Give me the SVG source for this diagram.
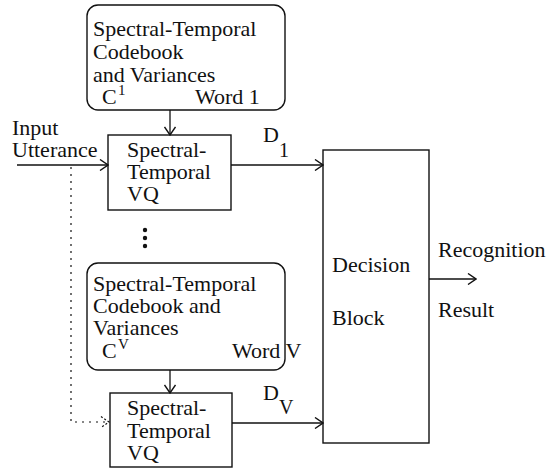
<svg xmlns="http://www.w3.org/2000/svg" width="553" height="470" viewBox="0 0 553 470" font-family="Times New Roman">
  <defs>
    <marker id="arr" viewBox="0 0 10 12" refX="9" refY="6" markerWidth="10" markerHeight="12" markerUnits="userSpaceOnUse" orient="auto">
      <path d="M1,0.5 L9,6 L1,11.5" fill="none" stroke="#111" stroke-width="1.4"/>
    </marker>
    <marker id="arrDot" viewBox="0 0 10 12" refX="9" refY="6" markerWidth="10" markerHeight="12" markerUnits="userSpaceOnUse" orient="auto">
      <path d="M1,0.5 L9,6 L1,11.5" fill="none" stroke="#111" stroke-width="1.2" stroke-dasharray="2 2"/>
    </marker>
  </defs>

  <!-- connectors -->
  <g id="connectors" fill="none" stroke="#111" stroke-width="1.3">
    <line x1="17" y1="165" x2="108" y2="165" marker-end="url(#arr)"/>
    <line x1="170" y1="110" x2="170" y2="135" marker-end="url(#arr)"/>
    <line x1="231" y1="165" x2="323" y2="165" marker-end="url(#arr)"/>
    <polyline points="71,167 71,422 109,422" stroke-width="1.2" stroke-dasharray="2 5" marker-end="url(#arrDot)"/>
    <line x1="170" y1="370" x2="170" y2="393" marker-end="url(#arr)"/>
    <line x1="232" y1="423" x2="323" y2="423" marker-end="url(#arr)"/>
    <line x1="429" y1="279" x2="476" y2="279" marker-end="url(#arr)"/>
  </g>

  <!-- block outlines -->
  <g fill="none" stroke="#111" stroke-width="1.4">
    <rect id="codebook1-frame" x="87" y="5" width="198" height="105" rx="11" ry="11"/>
    <rect id="vq1-frame" x="108" y="135" width="123" height="75"/>
    <rect id="codebookV-frame" x="87" y="263" width="198" height="107" rx="11" ry="11"/>
    <rect id="vqV-frame" x="110" y="393" width="122" height="74"/>
    <rect id="decision-frame" x="323" y="150" width="106" height="293"/>
  </g>

  <g font-size="22" fill="#111" font-family="Times New Roman">
    <!-- labels on connectors -->
    <g id="input-label">
      <text x="12" y="135" font-family="Times New Roman">Input</text>
      <text x="12" y="157" font-family="Times New Roman">Utterance</text>
    </g>
    <g id="d1-label">
      <text x="263" y="142" font-family="Times New Roman">D</text>
      <text x="279" y="157" font-family="Times New Roman" font-size="20">1</text>
    </g>
    <g id="dv-label">
      <text x="263" y="400" font-family="Times New Roman">D</text>
      <text x="279" y="414" font-family="Times New Roman" font-size="20">V</text>
    </g>
    <g id="result-label">
      <text x="438" y="257" font-family="Times New Roman">Recognition</text>
      <text x="438" y="317" font-family="Times New Roman">Result</text>
    </g>

    <!-- codebook for word 1 -->
    <g id="codebook1">
      <text x="93" y="36" font-family="Times New Roman">Spectral-Temporal</text>
      <text x="93" y="59" font-family="Times New Roman">Codebook</text>
      <text x="93" y="82" font-family="Times New Roman">and Variances</text>
      <text x="102" y="104" font-family="Times New Roman">C</text>
      <text x="118" y="95" font-family="Times New Roman" font-size="15">1</text>
      <text x="195" y="104" font-family="Times New Roman">Word 1</text>
    </g>

    <!-- VQ for word 1 -->
    <g id="vq1">
      <text x="127" y="157" font-family="Times New Roman">Spectral-</text>
      <text x="127" y="179" font-family="Times New Roman">Temporal</text>
      <text x="127" y="201" font-family="Times New Roman">VQ</text>
    </g>

    <!-- codebook for word V -->
    <g id="codebookV">
      <text x="93" y="291" font-family="Times New Roman">Spectral-Temporal</text>
      <text x="93" y="313" font-family="Times New Roman">Codebook and</text>
      <text x="93" y="335" font-family="Times New Roman">Variances</text>
      <text x="102" y="358" font-family="Times New Roman">C</text>
      <text x="118" y="349" font-family="Times New Roman" font-size="15">V</text>
      <text x="232" y="358" font-family="Times New Roman">Word V</text>
    </g>

    <!-- VQ for word V -->
    <g id="vqV">
      <text x="127" y="415" font-family="Times New Roman">Spectral-</text>
      <text x="127" y="438" font-family="Times New Roman">Temporal</text>
      <text x="127" y="460" font-family="Times New Roman">VQ</text>
    </g>

    <!-- decision block -->
    <g id="decision">
      <text x="332" y="272" font-family="Times New Roman">Decision</text>
      <text x="332" y="325" font-family="Times New Roman">Block</text>
    </g>
  </g>

  <!-- ellipsis between word models -->
  <g id="ellipsis" fill="#111">
    <circle cx="145" cy="230" r="2.2"/>
    <circle cx="145" cy="238" r="2.2"/>
    <circle cx="145" cy="246" r="2.2"/>
  </g>
</svg>
